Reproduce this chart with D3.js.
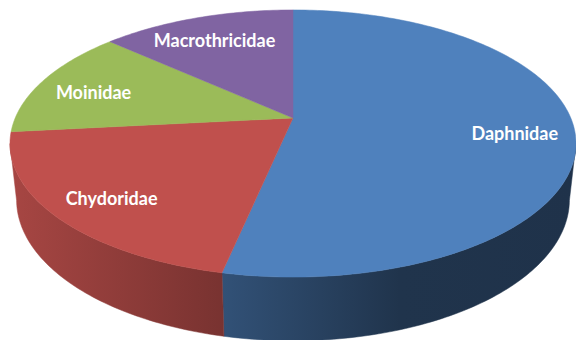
<!DOCTYPE html>
<html lang="en">
<head>
  <meta charset="UTF-8">
  <title>Cladocera families</title>
  <script src="https://d3js.org/d3.v7.min.js"></script>
  <style>
    body { margin: 0; background: #fff; }
    .label {
      font-family: Lato, "Open Sans", sans-serif;
      font-weight: bold;
      font-size: 18px;
      fill: #fff;
    }
  </style>
</head>
<body>
  <svg width="576" height="340"></svg>

  <script>
    // data
    const families = ["Daphnidae", "Chydoridae", "Moinidae", "Macrothricidae"];
    const counts = [16, 6, 4, 4];
    const topColors = ["#4f81bd", "#c0504d", "#9bbb59", "#8064a2"];

    const width = 576, height = 340;
    const svg = d3.select("svg");

    // perspective view of a flat disc (radius 1, thickness h)
    const cx = 293, cy = 118;
    const tilt = 27.6 * Math.PI / 180,
          sinT = Math.sin(tilt), cosT = Math.cos(tilt);
    const dist = 4.64, focal = 1289, thick = 0.23;

    function project(r, a, down) {
      const X = r * Math.sin(a), Z = r * Math.cos(a);
      const h = down ? thick : 0;
      const yc = Z * sinT - h * cosT;
      const zc = dist + Z * cosT + h * sinT;
      return [cx + focal * X / zc, cy - focal * yc / zc];
    }

    // the outer wall can be seen between the two silhouette angles
    const edge = Math.acos(-cosT / dist);
    const visFrom = edge, visTo = 2 * Math.PI - edge;

    const pie = d3.pie().sort(null).value(d => d)
      .startAngle(0).endAngle(2 * Math.PI);
    const arcs = pie(counts);

    // side shading: lighter on the left, darker to the right
    const shade = d3.scaleLinear()
      .domain([10, 230, 400, 576])
      .range([0.87, 0.62, 0.4, 0.39])
      .clamp(true);

    const defs = svg.append("defs");
    arcs.forEach((a, i) => {
      const g = defs.append("linearGradient")
        .attr("id", "side" + i)
        .attr("gradientUnits", "userSpaceOnUse")
        .attr("x1", 0).attr("x2", width).attr("y1", 0).attr("y2", 0);
      const base = d3.rgb(topColors[i]);
      shade.domain().forEach(x => {
        const f = shade(x);
        g.append("stop")
          .attr("offset", x / width)
          .attr("stop-color", d3.rgb(base.r * f, base.g * f, base.b * f));
      });
    });

    const step = Math.PI / 180;
    function rim(t0, t1, down) {
      const n = Math.max(2, Math.ceil(Math.abs(t1 - t0) / step));
      return d3.range(n + 1).map(k => project(1, t0 + (t1 - t0) * k / n, down));
    }

    // outer walls
    const walls = arcs.map((a, i) => ({
      i,
      t0: Math.max(a.startAngle, visFrom),
      t1: Math.min(a.endAngle, visTo)
    })).filter(w => w.t1 > w.t0);

    svg.append("g").selectAll("path")
      .data(walls)
      .join("path")
      .attr("d", w => "M" + rim(w.t0, w.t1).concat(rim(w.t1, w.t0, true)).join("L") + "Z")
      .attr("fill", w => `url(#side${w.i})`)
      .attr("stroke", w => `url(#side${w.i})`)
      .attr("stroke-width", 0.5);

    // top faces
    svg.append("g").selectAll("path")
      .data(arcs)
      .join("path")
      .attr("d", a => "M" + [project(0, 0)].concat(rim(a.startAngle, a.endAngle)).join("L") + "Z")
      .attr("fill", (a, i) => topColors[i])
      .attr("stroke", (a, i) => topColors[i])
      .attr("stroke-width", 0.5);

    // labels
    const labelPos = a => project(0.79, (a.startAngle + a.endAngle) / 2);
    svg.append("g").selectAll("text")
      .data(arcs)
      .join("text")
      .attr("class", "label")
      .attr("text-anchor", "middle")
      .attr("dominant-baseline", "central")
      .attr("x", a => labelPos(a)[0])
      .attr("y", a => labelPos(a)[1] + 4)
      .text((a, i) => families[i]);
  </script>
</body>
</html>
